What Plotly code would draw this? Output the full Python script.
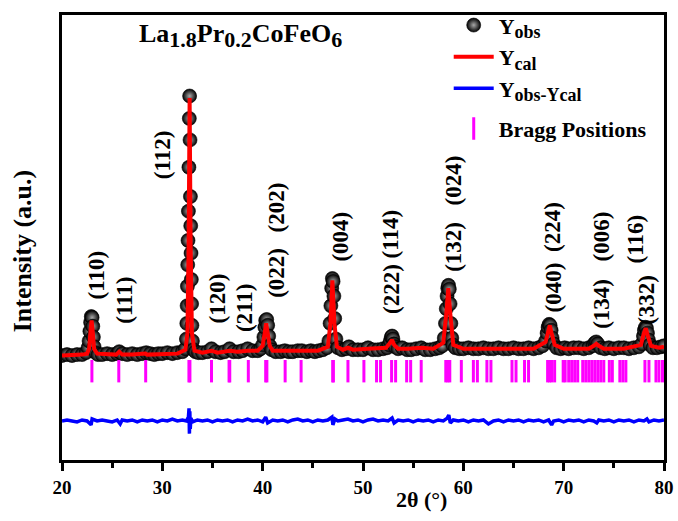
import plotly.graph_objects as go

# ---------------- data (display units: intensity in a.u.) ----------------
two_theta_obs = [
    20.0, 20.5, 21.0, 21.5, 22.0, 22.4,
    22.6, 22.7, 22.78, 22.85, 22.92, 23.0, 23.07, 23.13, 23.2, 23.35,
    23.6, 24.0, 24.5, 25.0, 25.5, 25.7, 26.0, 26.5, 27.0, 27.5, 28.0, 28.4, 28.8, 29.2, 29.6, 30.0, 30.5, 31.0, 31.5, 32.0,
    32.3, 32.4, 32.44, 32.47, 32.5, 32.53, 32.56, 32.6, 32.65, 32.69, 32.72,
    32.76, 32.8, 32.83, 32.86, 32.89, 32.92, 32.95, 33.0, 33.1,
    33.3, 33.6, 34.0, 34.5, 34.9, 35.3, 35.8, 36.2, 36.7, 37.1, 37.6, 38.0, 38.5, 39.0, 39.5, 39.8,
    40.0, 40.12, 40.22, 40.3, 40.4, 40.5, 40.6, 40.72,
    40.9, 41.3, 41.8, 42.2, 42.6, 43.0, 43.5, 43.9, 44.4, 44.8, 45.2, 45.6, 46.0, 46.4,
    46.6, 46.72, 46.8, 46.88, 46.95, 47.02, 47.1, 47.18, 47.3,
    47.5, 47.9, 48.3, 48.6, 49.0, 49.5, 50.0, 50.5, 51.0, 51.5, 52.0, 52.4,
    52.6, 52.72, 52.82, 52.9, 52.98, 53.08, 53.2,
    53.5, 53.9, 54.4, 54.8, 55.3, 55.8, 56.2, 56.7, 57.2, 57.6, 57.9,
    58.1, 58.22, 58.3, 58.38, 58.45, 58.52, 58.6, 58.68, 58.76, 58.85, 58.95,
    59.2, 59.6, 60.0, 60.5, 61.0, 61.5, 62.0, 62.5, 63.0, 63.5, 64.0, 64.5, 65.0, 65.5, 66.0, 66.5, 67.0, 67.5, 67.9,
    68.2, 68.35, 68.45, 68.55, 68.65, 68.75, 68.85, 69.0,
    69.3, 69.7, 70.1, 70.5, 71.0, 71.5, 72.0, 72.5, 72.9,
    73.1, 73.25, 73.4,
    73.7, 74.1, 74.5, 75.0, 75.5, 76.0, 76.5, 77.0, 77.5, 77.8,
    77.95, 78.05, 78.15, 78.25, 78.35, 78.45, 78.6,
    78.9, 79.3, 79.7, 80.0,
]
y_obs = [
    107, 108, 107, 108, 108, 110,
    115, 122, 132, 141, 147, 146, 137, 126, 116, 110,
    108, 108, 109, 108, 109, 111, 109, 108, 109, 108, 109, 110, 109, 108, 109, 109, 110, 109, 110, 111,
    114, 124, 140, 158, 178, 200, 225, 255, 300, 350, 373,
    328, 270, 240, 212, 185, 160, 138, 122, 113,
    111, 110, 110, 111, 114, 111, 110, 111, 114, 111, 111, 112, 114, 112, 112, 114,
    118, 126, 136, 143, 144, 138, 127, 117,
    113, 111, 111, 112, 111, 111, 112, 112, 111, 112, 111, 112, 113, 115,
    122, 140, 158, 176, 186, 183, 168, 145, 124,
    115, 113, 114, 116, 113, 113, 113, 115, 113, 113, 114, 115,
    118, 122, 126, 127, 124, 119, 116,
    114, 115, 113, 113, 114, 115, 113, 113, 114, 115, 117,
    125, 140, 155, 168, 176, 179, 175, 160, 140, 125, 118,
    115, 114, 114, 115, 114, 114, 115, 114, 114, 115, 114, 114, 115, 114, 114, 115, 114, 115, 117,
    122, 130, 136, 139, 138, 133, 125, 119,
    115, 114, 115, 114, 115, 115, 114, 115, 117,
    120, 121, 119,
    115, 114, 115, 114, 115, 115, 114, 115, 116, 119,
    127, 133, 136, 135, 130, 123, 118,
    115, 115, 116, 117,
]

two_theta_cal = [
    20.0, 21.0, 22.0, 22.5, 22.7, 22.85, 22.95, 23.05, 23.2, 23.5,
    24.5, 25.4, 25.7, 26.0, 27.0, 28.3, 28.5, 30.0, 31.5,
    32.3, 32.5, 32.62, 32.72, 32.82, 32.95, 33.2,
    34.0, 34.9, 35.5, 36.7, 37.5, 38.5, 39.5,
    40.0, 40.2, 40.35, 40.5, 40.7,
    41.0, 42.2, 43.8, 45.5,
    46.5, 46.75, 46.95, 47.15, 47.4,
    48.0, 48.5, 49.0, 50.5,
    52.3, 52.7, 52.9, 53.1, 53.5,
    54.5, 55.8, 57.0,
    58.0, 58.3, 58.5, 58.7, 59.0,
    60.0, 62.5, 65.0, 67.0,
    68.2, 68.45, 68.62, 68.8, 69.1,
    70.0, 72.5,
    73.0, 73.25, 73.5,
    74.0, 76.0,
    77.7, 78.0, 78.18, 78.4, 78.7,
    79.5, 80.0,
]
y_cal = [
    107, 107, 108, 109, 114, 133, 143, 133, 114, 109,
    108, 108, 111, 108, 108, 109, 108, 109, 109,
    113, 130, 220, 371, 220, 130, 112,
    110, 112, 110, 112, 111, 112, 112,
    117, 130, 140, 130, 117,
    112, 112, 112, 112,
    116, 140, 184, 140, 116,
    113, 115, 113, 114,
    115, 120, 123, 118, 114,
    114, 115, 114,
    120, 150, 176, 150, 118,
    114, 114, 114, 114,
    121, 134, 138, 130, 118,
    114, 114,
    117, 119, 117,
    114, 114,
    118, 130, 135, 127, 117,
    115, 116,
]

two_theta_diff = [
    20.0, 20.5, 21.0, 21.5, 22.0, 22.5, 22.9, 23.0, 23.5, 24.0, 24.5, 25.0, 25.5, 25.8, 26.0,
    26.5, 27.0, 27.5, 28.0, 28.5, 29.0, 29.5, 30.0, 30.5, 31.0, 31.5, 32.0, 32.4,
    32.6, 32.66, 32.7, 32.74, 32.78, 32.85, 33.0,
    33.5, 34.0, 34.5, 35.0, 35.5, 36.0, 36.5, 37.0, 37.5, 38.0, 38.5, 39.0, 39.5,
    40.0, 40.3, 40.5, 41.0, 41.5, 42.0, 42.5, 43.0, 43.5, 44.0, 44.5, 45.0, 45.5, 46.0, 46.5,
    46.9, 47.0, 47.2, 47.5, 48.0, 48.5, 49.0, 49.5, 50.0, 50.5, 51.0, 51.5, 52.0, 52.5,
    52.9, 53.1, 53.5, 54.0, 54.5, 55.0, 55.5, 56.0, 56.5, 57.0, 57.5, 58.0,
    58.4, 58.55, 58.7, 59.0, 59.5, 60.0, 60.5, 61.0, 61.5, 62.0, 62.5, 63.0, 63.5, 64.0,
    64.5, 65.0, 65.5, 66.0, 66.5, 67.0, 67.5, 68.0, 68.5, 68.8, 69.0, 69.5, 70.0, 70.5,
    71.0, 71.5, 72.0, 72.5, 73.0, 73.3, 73.5, 74.0, 74.5, 75.0, 75.5, 76.0, 76.5, 77.0,
    77.5, 78.0, 78.3, 78.5, 79.0, 79.5, 80.0,
]
y_diff = [
    0, 1, 0, -1, 1, 0, -4, 2, 0, 1, 0, -1, 1, -3, 1,
    0, 1, -1, 1, 0, 1, -1, 1, 0, 2, 0, 1, 0,
    4, 13, -13, 10, -8, 3, -1,
    1, 0, 1, -1, 1, 0, 1, -1, 1, 0, 2, 0, 1,
    -1, 4, -2, 1, 0, 1, -1, 1, 2, 0, 1, -1, 1, 0, 1,
    4, -4, 2, 0, 1, 2, 0, 1, -1, 1, 2, 0, 1, 0,
    3, -2, 1, 0, 1, -1, 1, 0, 1, -1, 1, 0,
    3, 6, -2, 1, 0, 1, -1, 1, 0, 1, -3, 0, 1, -1,
    1, 0, 1, -1, 1, 0, 1, -1, 1, -4, 0, 1, -1, 1,
    0, 1, -1, 1, 0, -2, 1, 0, 1, -1, 1, 0, 1, -1,
    1, 0, 2, -1, 1, 0, 1,
]

bragg_positions = [
    22.98, 25.66, 28.34, 32.65, 32.75, 34.90, 36.65, 36.72, 38.57, 40.30, 40.42,
    42.24, 43.83, 46.98, 47.05, 48.50, 50.09, 51.35, 51.75, 52.85, 53.25, 54.35,
    54.75, 55.8, 58.25, 58.45, 58.65, 59.8, 61.0, 61.4, 62.35, 62.75, 64.85, 65.25,
    66.1, 66.5, 68.4, 68.6, 68.8, 69.1, 69.95, 70.15, 70.5, 70.8, 71.1, 71.4, 71.9,
    72.2, 72.5, 72.8, 73.1, 73.4, 73.7, 74.0, 74.55, 74.85, 75.6, 75.9, 76.2, 78.1,
    78.5, 79.2, 79.5, 79.85,
]

peak_labels = ["(110)", "(111)", "(112)", "(120)", "(211)", "(022)", "(202)", "(004)",
               "(222)", "(114)", "(132)", "(024)", "(040)", "(224)", "(134)", "(006)",
               "(332)", "(116)"]
label_two_theta = [23.48, 26.26, 30.03, 35.49, 38.17, 41.35, 41.35, 47.71,
                   52.77, 52.77, 59.03, 59.03, 68.96, 68.96, 73.82, 73.82, 78.29, 77.2]
label_height = [190, 164, 313, 166, 156, 192, 259, 229,
                175, 232, 218, 286, 177, 239, 160, 229, 164, 227]

x_ticks = [20, 30, 40, 50, 60, 70, 80]

# ---------------- layout constants ----------------
DIFF_OFFSET = 40
BRAGG_LEVEL = 91
FONT = "Liberation Serif"
W, H = 678, 521
L, R, T, B = 62, 12, 4, 61
PW, PH = W - L - R, H - T - B


def px_to_paper(px, py):
    return (px - L) / PW, (H - B - py) / PH


def sub(t, size):
    return '<sub><span style="font-size:%dpx">%s</span></sub>' % (size, t)


assert len(two_theta_obs) == len(y_obs)
assert len(two_theta_cal) == len(y_cal)
assert len(two_theta_diff) == len(y_diff)

fig = go.Figure()

fig.add_trace(go.Scatter(
    x=two_theta_obs, y=y_obs, mode="markers", name="Y" + sub("obs", 18),
    legend="legend",
    marker=dict(size=14, color="black",
                gradient=dict(type="radial", color="#a8a8a8"),
                line=dict(width=0.6, color="black")),
))
fig.add_trace(go.Scatter(
    x=two_theta_cal, y=y_cal, mode="lines", name="Y" + sub("cal", 18),
    legend="legend",
    line=dict(color="#ff0000", width=4),
))
fig.add_trace(go.Scatter(
    x=two_theta_diff, y=[v + DIFF_OFFSET for v in y_diff], mode="lines",
    name="Y" + sub("obs-Ycal", 18), legend="legend",
    line=dict(color="#0000ff", width=3.5),
))
fig.add_trace(go.Scatter(
    x=bragg_positions, y=[BRAGG_LEVEL] * len(bragg_positions), mode="markers",
    name="Bragg Positions", legend="legend2",
    marker=dict(symbol="line-ns", size=16, color="#ff00ff",
                line=dict(color="#ff00ff", width=3)),
))

annotations = []
for txt, xx, yy in zip(peak_labels, label_two_theta, label_height):
    annotations.append(dict(
        x=xx, y=yy, xref="x", yref="y", text=txt, textangle=-90,
        showarrow=False, xanchor="center", yanchor="middle",
        font=dict(family=FONT, size=23, color="black", weight="bold"),
    ))

tx, ty = px_to_paper(137, 25)
annotations.append(dict(
    x=tx, y=ty, xref="paper", yref="paper", xanchor="left", yanchor="middle",
    text="La" + sub("1.8", 22) + "Pr" + sub("0.2", 22) + "CoFeO" + sub("6", 22),
    showarrow=False,
    font=dict(family=FONT, size=26, color="black", weight="bold"),
))
yx, yy_ = px_to_paper(22, 246)
annotations.append(dict(
    x=yx, y=yy_, xref="paper", yref="paper", xanchor="center", yanchor="middle",
    text="Intensity (a.u.)", textangle=-90, showarrow=False,
    font=dict(family=FONT, size=26, color="black", weight="bold"),
))
xx_, xy_ = px_to_paper(423, 500)
annotations.append(dict(
    x=xx_, y=xy_, xref="paper", yref="paper", xanchor="center", yanchor="middle",
    text="2θ (°)", showarrow=False,
    font=dict(family=FONT, size=22, color="black", weight="bold"),
))

lx, ly = px_to_paper(450, -7)
l2x, l2y = px_to_paper(450, 99)
legend_font = dict(family=FONT, size=22, color="black", weight="bold")

fig.update_layout(
    width=W, height=H,
    margin=dict(l=L, r=R, t=T, b=B, pad=0),
    paper_bgcolor="white", plot_bgcolor="white",
    showlegend=True,
    legend=dict(x=lx, y=ly, xanchor="left", yanchor="top",
                bgcolor="rgba(0,0,0,0)", borderwidth=0,
                font=legend_font, tracegroupgap=0, itemwidth=40),
    legend2=dict(x=l2x, y=l2y, xanchor="left", yanchor="top",
                 bgcolor="rgba(0,0,0,0)", borderwidth=0,
                 font=legend_font, itemwidth=40),
    annotations=annotations,
    xaxis=dict(range=[20, 80], showgrid=False, zeroline=False,
               showline=True, linewidth=3, linecolor="black", mirror=True,
               ticks="outside", ticklen=8, tickwidth=3, tickcolor="black",
               tickvals=x_ticks,
               minor=dict(dtick=5, tick0=20, ticks="outside", ticklen=5,
                          tickwidth=3, tickcolor="black"),
               tickfont=dict(family=FONT, size=19, color="black", weight="bold")),
    yaxis=dict(range=[0, PH], showgrid=False, zeroline=False,
               showline=True, linewidth=3, linecolor="black", mirror=True,
               ticks="", showticklabels=False),
)

fig.write_html("out.html")
